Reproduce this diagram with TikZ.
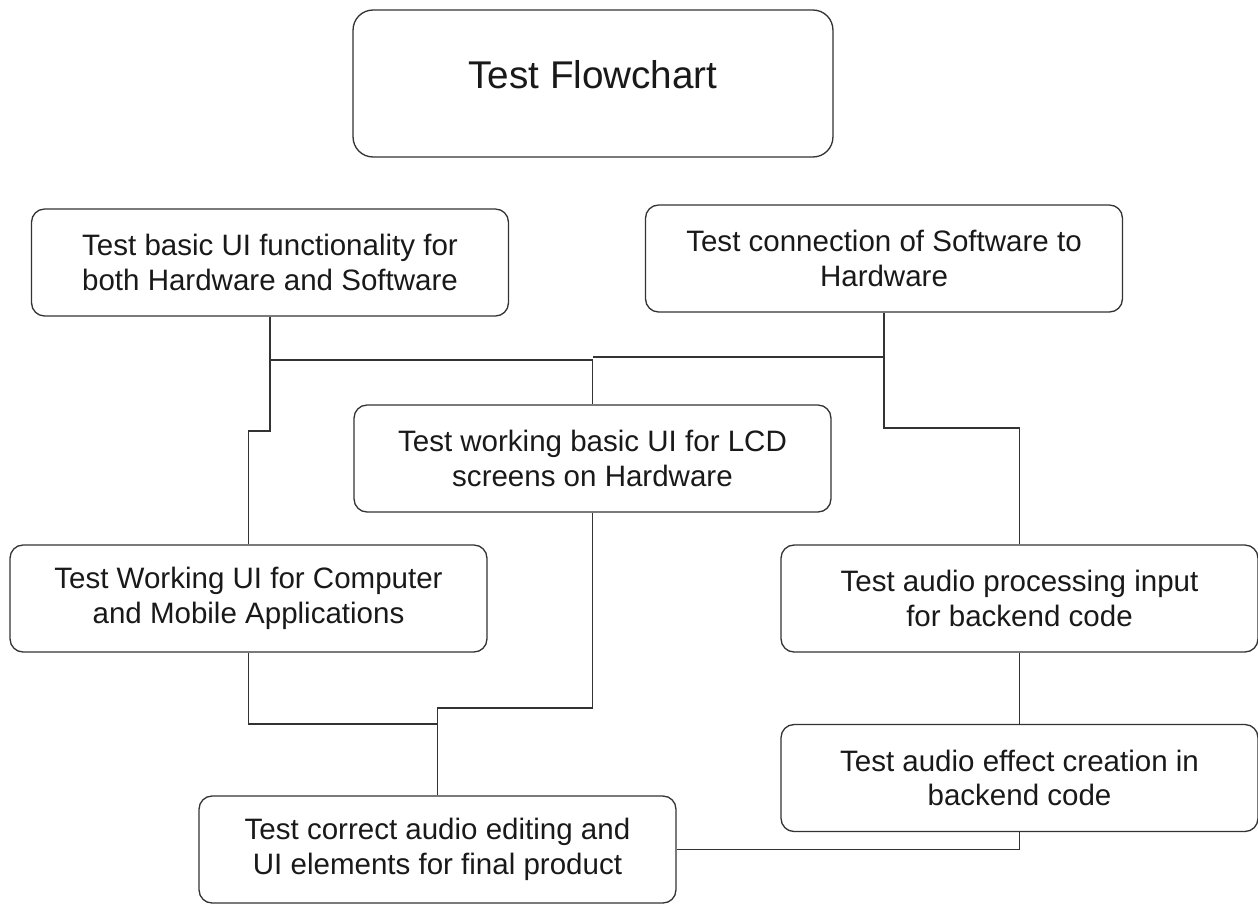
\documentclass[tikz,border=0pt]{standalone}
\usepackage{fontspec}
\setmainfont{Liberation Sans}
\usepackage{tikz}

\tikzset{
  testbox/.style={draw=black!80, line width=.75pt, rounded corners=.26cm,
    minimum width=9.54cm, minimum height=2.14cm, align=center,
    text=black!90, font=\fontsize{16.8}{19.8}\selectfont},
  titlebox/.style={draw=black!80, line width=.75pt, rounded corners=.4cm,
    minimum width=9.6cm, minimum height=2.94cm},
  link/.style={draw=black!80, line width=.75pt}
}

\begin{document}
\begin{tikzpicture}[x=.02cm, y=-.02cm]
             \useasboundingbox (0, 0) rectangle (1258, 903);

             \node[titlebox, label={[text=black!90, font=\fontsize{22}{26}\selectfont, yshift=5.2pt]center:Test Flowchart}] (title) at (593, 83.5) {};

             \node[testbox] (basicUI) at (270, 262.5) {Test basic UI functionality for\\both Hardware and Software};
             \node[testbox] (connection) at (884, 258.5) {Test connection of Software to\\Hardware};
             \node[testbox] (lcdUI) at (592.5, 458.5) {Test working basic UI for LCD\\screens on Hardware};
             \node[testbox] (appUI) at (248.5, 598.5) {Test Working UI for Computer\\and Mobile Applications};
             \node[testbox] (audioIn) at (1019.5, 598.5) {Test audio processing input\\for backend code};
             \node[testbox] (audioFx) at (1019.5, 778) {Test audio effect creation in\\backend code};
             \node[testbox] (final) at (437.5, 849.5) {Test correct audio editing and\\UI elements for final product};

             \coordinate (joinL) at (592.5, 360);
             \coordinate (joinR) at (592.5, 357);
             \coordinate (jogA) at (270, 431);
             \coordinate (jogB) at (884, 428);
             \coordinate (joinD) at (437.5, 724);
             \coordinate (joinC) at (437.5, 708);

             \draw[link] (basicUI.south) |- (joinL) -- (lcdUI.north);
             \draw[link] (connection.south) |- (joinR);
             \draw[link] (basicUI.south) -- (jogA) -| (appUI.north);
             \draw[link] (connection.south) -- (jogB) -| (audioIn.north);
             \draw[link] (audioIn.south) -- (audioFx.north);
             \draw[link] (audioFx.south) |- (final.east);
             \draw[link] (appUI.south) |- (joinD);
             \draw[link] (lcdUI.south) |- (joinC) -- (final.north);
             \end{tikzpicture}
\end{document}
